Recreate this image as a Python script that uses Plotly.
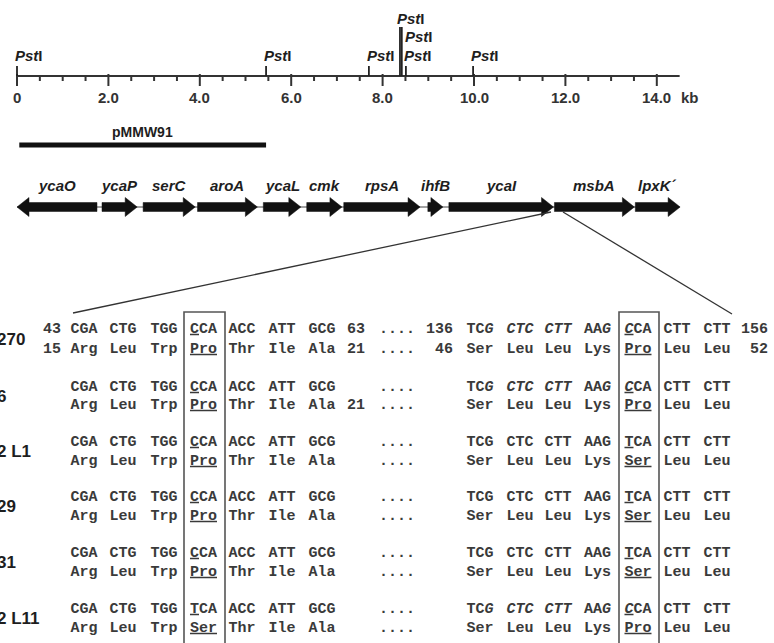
import plotly.graph_objects as go

# ---------------- data ----------------
kb_major = [0, 2, 4, 6, 8, 10, 12, 14]
kb_major_labels = ["0", "2.0", "4.0", "6.0", "8.0", "10.0", "12.0", "14.0"]
kb_minor = [0.5, 1.0, 1.5, 2.5, 3.0, 3.5, 4.5, 5.0, 5.5, 6.5, 7.0, 7.5, 8.5, 9.0, 9.5,
            10.5, 11.0, 11.5, 12.5, 13.0, 13.5]
map_end_kb = 14.5

pst_sites = [0.0, 5.45, 7.70, 8.38, 8.42, 8.51, 9.98]
pst_level = [0, 0, 0, 2, 1, 0, 0]

plasmid_name = "pMMW91"
plasmid_span = [0.05, 5.45]

gene_names = ["ycaO", "ycaP", "serC", "aroA", "ycaL", "cmk", "rpsA", "ihfB", "ycaI", "msbA", "lpxK´"]
gene_start = [0.0, 1.86, 2.76, 3.95, 5.39, 6.34, 7.15, 8.99, 9.45, 11.76, 13.53]
gene_end = [1.75, 2.63, 3.90, 5.26, 6.21, 7.11, 8.82, 9.32, 11.74, 13.51, 14.51]
gene_strand = [-1, 1, 1, 1, 1, 1, 1, 1, 1, 1, 1]

strains = ["270", "6", "2 L1", "29", "31", "2 L11"]
left_nt = [
    ["CGA", "CTG", "TGG", "CCA", "ACC", "ATT", "GCG"],
    ["CGA", "CTG", "TGG", "CCA", "ACC", "ATT", "GCG"],
    ["CGA", "CTG", "TGG", "CCA", "ACC", "ATT", "GCG"],
    ["CGA", "CTG", "TGG", "CCA", "ACC", "ATT", "GCG"],
    ["CGA", "CTG", "TGG", "CCA", "ACC", "ATT", "GCG"],
    ["CGA", "CTG", "TGG", "TCA", "ACC", "ATT", "GCG"],
]
left_aa = [
    ["Arg", "Leu", "Trp", "Pro", "Thr", "Ile", "Ala"],
    ["Arg", "Leu", "Trp", "Pro", "Thr", "Ile", "Ala"],
    ["Arg", "Leu", "Trp", "Pro", "Thr", "Ile", "Ala"],
    ["Arg", "Leu", "Trp", "Pro", "Thr", "Ile", "Ala"],
    ["Arg", "Leu", "Trp", "Pro", "Thr", "Ile", "Ala"],
    ["Arg", "Leu", "Trp", "Ser", "Thr", "Ile", "Ala"],
]
right_nt = [
    ["TCG", "CTC", "CTT", "AAG", "CCA", "CTT", "CTT"],
    ["TCG", "CTC", "CTT", "AAG", "CCA", "CTT", "CTT"],
    ["TCG", "CTC", "CTT", "AAG", "TCA", "CTT", "CTT"],
    ["TCG", "CTC", "CTT", "AAG", "TCA", "CTT", "CTT"],
    ["TCG", "CTC", "CTT", "AAG", "TCA", "CTT", "CTT"],
    ["TCG", "CTC", "CTT", "AAG", "CCA", "CTT", "CTT"],
]
right_aa = [
    ["Ser", "Leu", "Leu", "Lys", "Pro", "Leu", "Leu"],
    ["Ser", "Leu", "Leu", "Lys", "Pro", "Leu", "Leu"],
    ["Ser", "Leu", "Leu", "Lys", "Ser", "Leu", "Leu"],
    ["Ser", "Leu", "Leu", "Lys", "Ser", "Leu", "Leu"],
    ["Ser", "Leu", "Leu", "Lys", "Ser", "Leu", "Leu"],
    ["Ser", "Leu", "Leu", "Lys", "Pro", "Leu", "Leu"],
]
right_italic = [True, True, False, False, False, True]
num_nt_left = {0: ("43", "63")}
num_aa_left = {0: ("15", "21"), 1: ("", "21")}
num_nt_right = {0: ("136", "156")}
num_aa_right = {0: ("46", "52")}

# ---------------- layout helpers ----------------
W, H = 774, 643
PX0, PXKB = 17.0, 45.7

DARK = "#1e1e1e"
SANS = "Liberation Sans"
MONO = "Liberation Mono"
FS = 15
CW = 0.6 * FS  # mono char width

fig = go.Figure()
shapes = []
annos = []

AXY = 76
fig.add_trace(go.Scatter(x=[0, map_end_kb], y=[AXY, AXY], mode="lines",
                         line=dict(color="#333", width=2), xaxis="x2", yaxis="y",
                         hoverinfo="skip", showlegend=False))
tx, ty = [], []
for k in kb_major:
    tx += [k, k, None]; ty += [AXY - 2, AXY + 10, None]
for k in kb_minor:
    tx += [k, k, None]; ty += [AXY, AXY + 5, None]
fig.add_trace(go.Scatter(x=tx, y=ty, mode="lines", line=dict(color="#333", width=2),
                         xaxis="x2", yaxis="y", hoverinfo="skip", showlegend=False))
for k, lab in zip(kb_major, kb_major_labels):
    annos.append(dict(x=k, y=97, xref="x2", yref="y", text="<b>%s</b>" % lab, showarrow=False,
                      font=dict(family=SANS, size=15, color="#333"), xanchor="center", yanchor="middle"))
annos.append(dict(x=14.72, y=97, xref="x2", yref="y", text="<b>kb</b>", showarrow=False,
                  font=dict(family=SANS, size=15, color="#333"), xanchor="center", yanchor="middle"))

# PstI sites
level_top = {0: 66, 1: 27, 2: 27}
level_lab = {0: 55, 1: 36, 2: 18}
level_shift = {0: -4, 1: 1, 2: -5}
sx, sy = [], []
for s, lv in zip(pst_sites, pst_level):
    sx += [s, s, None]; sy += [AXY, level_top[lv], None]
    annos.append(dict(x=s, y=level_lab[lv], xref="x2", yref="y", text="<b><i>Pst</i>I</b>",
                      showarrow=False, xanchor="left", yanchor="middle", xshift=level_shift[lv],
                      font=dict(family=SANS, size=15, color=DARK)))
fig.add_trace(go.Scatter(x=sx, y=sy, mode="lines", line=dict(color="#222", width=1.8),
                         xaxis="x2", yaxis="y", hoverinfo="skip", showlegend=False))

# plasmid bar
fig.add_trace(go.Scatter(x=plasmid_span, y=[145, 145], mode="lines", line=dict(color="#111", width=5),
                         xaxis="x2", yaxis="y", hoverinfo="skip", showlegend=False))
annos.append(dict(x=sum(plasmid_span) / 2, y=132, xref="x2", yref="y", text="<b>%s</b>" % plasmid_name,
                  showarrow=False, font=dict(family=SANS, size=14, color=DARK)))

# genes
GY = 207
fig.add_trace(go.Scatter(x=[0, map_end_kb], y=[GY, GY], mode="lines", line=dict(color="#444", width=1),
                         xaxis="x2", yaxis="y", hoverinfo="skip", showlegend=False))
HEAD = 12 / PXKB
for name, s, e, d in zip(gene_names, gene_start, gene_end, gene_strand):
    bh, hh = 4.5, 9.5
    if d > 0:
        h = e - HEAD
        xs = [s, h, h, e, h, h, s, s]
    else:
        h = s + HEAD
        xs = [e, h, h, s, h, h, e, e]
    ys = [GY - bh, GY - bh, GY - hh, GY, GY + hh, GY + bh, GY + bh, GY - bh]
    fig.add_trace(go.Scatter(x=xs, y=ys, mode="lines", fill="toself", fillcolor="#111",
                             line=dict(color="#111", width=0.5), xaxis="x2", yaxis="y",
                             hoverinfo="skip", showlegend=False))
    annos.append(dict(x=(s + e) / 2, y=185, xref="x2", yref="y", text="<b><i>%s</i></b>" % name,
                      showarrow=False, font=dict(family=SANS, size=15, color=DARK)))

# connector lines from msbA
shapes.append(dict(type="line", xref="x", yref="y", x0=73, y0=313, x1=551, y1=212,
                   line=dict(color="#333", width=1.3)))
shapes.append(dict(type="line", xref="x", yref="y", x0=563, y0=212, x1=732, y1=314,
                   line=dict(color="#333", width=1.3)))

# ---------------- sequence alignment ----------------
left_cols = [84, 123, 164, 203.5, 242, 282, 322]
right_cols = [480, 520, 558, 597.5, 638, 677, 717]
nt_y = [329, 387, 442, 497, 553, 609]
aa_y = [349, 405, 461, 516, 572, 628]
BOX_L, BOX_R = 3, 4

def fmt_right_nt(i, c, italic):
    if italic:
        if i == 0:
            return c[:2] + "<i>%s</i>" % c[2]
        if i in (1, 2):
            return "<i>%s</i>" % c
        if i == 3:
            return c[:2] + "<i>%s</i>" % c[2]
        if i == BOX_R:
            return "<u><i>%s</i></u>%s" % (c[0], c[1:])
    if i == BOX_R:
        return "<u>%s</u>%s" % (c[0], c[1:])
    return c

tx, ty, tt = [], [], []
for r in range(len(strains)):
    for i, c in enumerate(left_nt[r]):
        tx.append(left_cols[i]); ty.append(nt_y[r])
        tt.append("<u>%s</u>%s" % (c[0], c[1:]) if i == BOX_L else c)
    for i, a in enumerate(left_aa[r]):
        tx.append(left_cols[i]); ty.append(aa_y[r])
        tt.append("<u>%s</u>" % a if i == BOX_L else a)
    for i, c in enumerate(right_nt[r]):
        tx.append(right_cols[i]); ty.append(nt_y[r])
        tt.append(fmt_right_nt(i, c, right_italic[r]))
    for i, a in enumerate(right_aa[r]):
        tx.append(right_cols[i]); ty.append(aa_y[r])
        tt.append("<u>%s</u>" % a if i == BOX_R else a)
    for yy in (nt_y[r], aa_y[r]):
        tx.append(397); ty.append(yy); tt.append("....")

def add_num(txt, yy, left=None, right=None):
    if not txt:
        return
    w = len(txt) * CW
    cx = left + w / 2 if left is not None else right - w / 2
    tx.append(cx); ty.append(yy); tt.append(txt)

for r, (a, b) in num_nt_left.items():
    add_num(a, nt_y[r], right=61); add_num(b, nt_y[r], left=347)
for r, (a, b) in num_aa_left.items():
    add_num(a, aa_y[r], right=61); add_num(b, aa_y[r], left=347)
for r, (a, b) in num_nt_right.items():
    add_num(a, nt_y[r], left=426); add_num(b, nt_y[r], left=741)
for r, (a, b) in num_aa_right.items():
    add_num(a, aa_y[r], right=453); add_num(b, aa_y[r], right=768)

fig.add_trace(go.Scatter(x=tx, y=ty, text=tt, mode="text", textposition="middle center",
                         textfont=dict(family=MONO, size=FS, color="#3a3a3a", weight="bold"),
                         xaxis="x", yaxis="y", cliponaxis=False, hoverinfo="skip", showlegend=False))

# strain labels (partly cut at the left edge, as in the reference)
for r, s in enumerate(strains):
    annos.append(dict(x=0, y=(nt_y[r] + aa_y[r]) / 2, xref="paper", yref="y", text="<b>%s</b>" % s,
                      showarrow=False, xanchor="left", yanchor="middle", xshift=-5,
                      font=dict(family=SANS, size=17, color=DARK)))

# boxes
for xl, xr in ((184, 225), (619, 659)):
    shapes.append(dict(type="path", xref="x", yref="y",
                       path="M %d,660 L %d,312 L %d,312 L %d,660" % (xl, xl, xr, xr),
                       line=dict(color="#555", width=1.6)))

fig.update_layout(
    width=W, height=H, margin=dict(l=0, r=0, t=0, b=0),
    paper_bgcolor="white", plot_bgcolor="white",
    xaxis=dict(range=[0, W], visible=False, fixedrange=True),
    xaxis2=dict(range=[-PX0 / PXKB, (W - PX0) / PXKB], overlaying="x", visible=False, fixedrange=True),
    yaxis=dict(range=[H, 0], visible=False, fixedrange=True),
    shapes=shapes, annotations=annos, showlegend=False,
)
fig.write_html("out.html", config={"displayModeBar": False},
               post_script="document.body.style.margin='0';document.body.style.overflow='hidden';")
